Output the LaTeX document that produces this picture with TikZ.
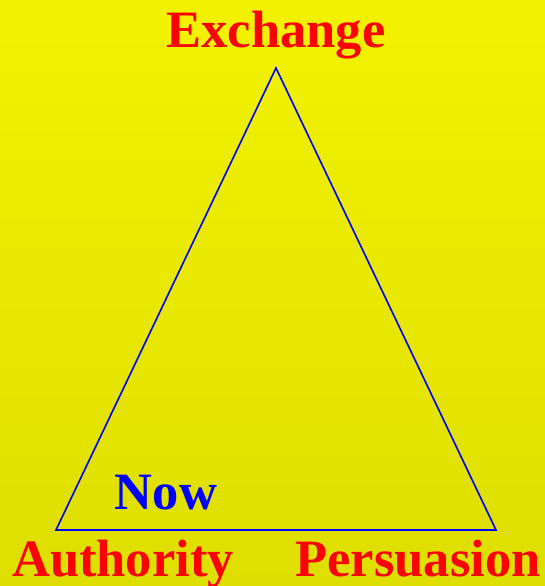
\documentclass[tikz,border=0pt]{standalone}
\usepackage{fontspec}
\setmainfont{Liberation Serif}
\begin{document}
\begin{tikzpicture}[x=1pt,y=-1pt,
  lbl/.style={inner sep=0pt,anchor=base,font=\fontsize{52.5}{60}\selectfont\bfseries},
  side/.style={draw=blue,line width=1.6pt}]
\useasboundingbox (0,0) rectangle (545,586);
\shade[top color={rgb,255:red,242;green,242;blue,0},bottom color={rgb,255:red,222;green,222;blue,0}] (0,0) rectangle (545,586);
\coordinate (T) at (276,68);
\coordinate (L) at (56,530);
\coordinate (R) at (496,530);
\draw[side,line join=miter] (T) -- (L) -- (R) -- cycle;
\node[lbl,text=red] (ex) at (276,48) {Exchange};
\node[lbl,text=red] (au) at (123,576) {Authority};
\node[lbl,text=red] (pe) at (418,576) {Persuasion};
\node[lbl,text=blue] (now) at (166,509) {Now};
\end{tikzpicture}
\end{document}
